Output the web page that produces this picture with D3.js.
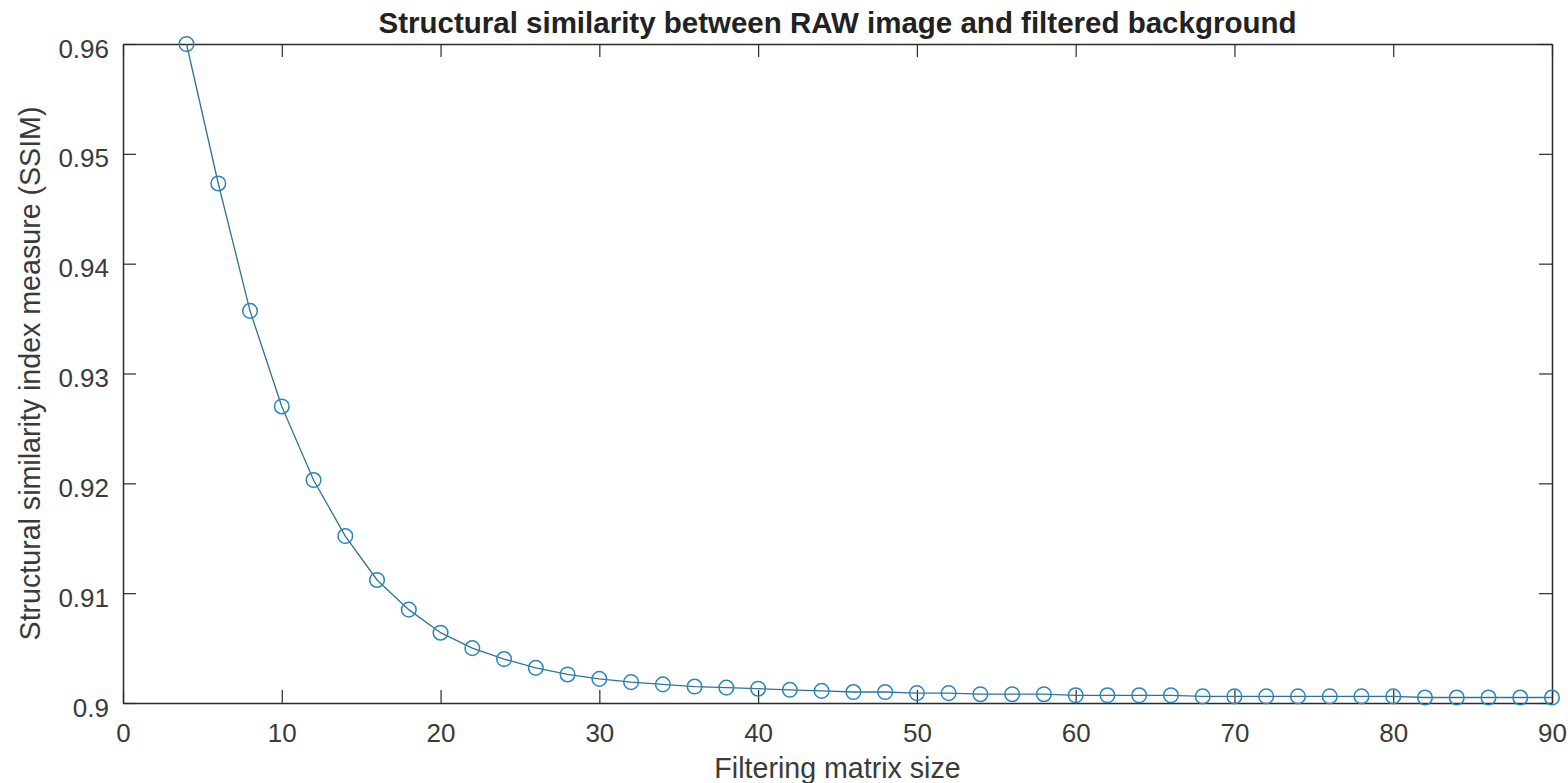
<!DOCTYPE html>
<html>
<head>
<meta charset="utf-8">
<script src="https://cdn.jsdelivr.net/npm/d3@7"></script>
<style>
  html, body { margin: 0; padding: 0; background: #fff; }
  svg { display: block; }
</style>
</head>
<body>
<svg id="chart" width="1568" height="783"></svg>
<script>
// Filter window sizes and the SSIM measured for each one
const matrixSizes = [4, 6, 8, 10, 12, 14, 16, 18, 20, 22, 24, 26, 28, 30, 32, 34, 36, 38, 40, 42, 44, 46,
                     48, 50, 52, 54, 56, 58, 60, 62, 64, 66, 68, 70, 72, 74, 76, 78, 80, 82, 84, 86, 88, 90];
const ssimValues = [0.9600, 0.9473, 0.9357, 0.9270, 0.9203, 0.9152, 0.9112, 0.9085, 0.9064, 0.9050,
                    0.9040, 0.9032, 0.9026, 0.9022, 0.9019, 0.9017, 0.9015, 0.9014, 0.9013, 0.9012,
                    0.9011, 0.9010, 0.9010, 0.9009, 0.9009, 0.9008, 0.9008, 0.9008, 0.9007, 0.9007,
                    0.9007, 0.9007, 0.9006, 0.9006, 0.9006, 0.9006, 0.9006, 0.9006, 0.9006, 0.9005,
                    0.9005, 0.9005, 0.9005, 0.9005];
const xTicks = [0, 10, 20, 30, 40, 50, 60, 70, 80, 90];
const yTicks = [0.90, 0.91, 0.92, 0.93, 0.94, 0.95, 0.96];
const yTickLabels = ["0.9", "0.91", "0.92", "0.93", "0.94", "0.95", "0.96"];

const titleText = "Structural similarity between RAW image and filtered background";
const xLabelText = "Filtering matrix size";
const yLabelText = "Structural similarity index measure (SSIM)";

const svg = d3.select("#chart");
const plotLeft = 123, plotRight = 1552, plotTop = 44, plotBottom = 703;
const axisColor = "#2b2b2b";
const textColor = "#3a3a3a";
const markerColor = "#2a86b8";
const lineColor = "#2f7399";
const font = "'Liberation Sans', Arial, Helvetica, sans-serif";
const tickFont = 26, labelFont = 28.6, titleFont = 29.5;
const tickLen = 13;

const x = d3.scaleLinear().domain([0, 90]).range([plotLeft, plotRight]);
const y = d3.scaleLinear().domain([0.90, 0.96]).range([plotBottom, plotTop]);

// Axes: boxed axes with inward ticks on all four sides
const fmtY = (d) => yTickLabels[yTicks.findIndex(t => Math.abs(t - d) < 1e-9)];

const gBottom = svg.append("g").attr("transform", `translate(0,${plotBottom})`)
  .call(d3.axisBottom(x).tickValues(xTicks).tickSizeInner(-tickLen).tickSizeOuter(0).tickPadding(21));
const gTop = svg.append("g").attr("transform", `translate(0,${plotTop})`)
  .call(d3.axisTop(x).tickValues(xTicks).tickSizeInner(-tickLen).tickSizeOuter(0).tickFormat(""));
const gLeft = svg.append("g").attr("transform", `translate(${plotLeft},0)`)
  .call(d3.axisLeft(y).tickValues(yTicks).tickFormat(fmtY).tickSizeInner(-tickLen).tickSizeOuter(0).tickPadding(14));
const gRight = svg.append("g").attr("transform", `translate(${plotRight},0)`)
  .call(d3.axisRight(y).tickValues(yTicks).tickSizeInner(-tickLen).tickSizeOuter(0).tickFormat(""));

[gBottom, gTop, gLeft, gRight].forEach(g => {
  g.select(".domain").attr("stroke", axisColor).attr("stroke-width", 1.5);
  g.selectAll(".tick line").attr("stroke", axisColor).attr("stroke-width", 1.2);
  g.selectAll(".tick text")
    .attr("fill", textColor)
    .style("font-family", font)
    .style("font-size", tickFont + "px");
});
gLeft.selectAll(".tick text").attr("dy", "0.5em");

// Series: connecting line with open circle markers
const pts = matrixSizes.map((m, i) => [m, ssimValues[i]]);
svg.append("path")
  .datum(pts)
  .attr("fill", "none")
  .attr("stroke", lineColor)
  .attr("stroke-width", 1.3)
  .attr("d", d3.line().x(d => x(d[0])).y(d => y(d[1])));

svg.append("g").selectAll("circle")
  .data(pts)
  .join("circle")
  .attr("cx", d => x(d[0]))
  .attr("cy", d => y(d[1]))
  .attr("r", 7.3)
  .attr("fill", "none")
  .attr("stroke", markerColor)
  .attr("stroke-width", 1.5);

// Titles
svg.append("text")
  .attr("x", (plotLeft + plotRight) / 2)
  .attr("y", 33)
  .attr("text-anchor", "middle")
  .attr("fill", "#222")
  .style("font-family", font)
  .style("font-weight", "bold")
  .style("font-size", titleFont + "px")
  .text(titleText);

svg.append("text")
  .attr("x", (plotLeft + plotRight) / 2)
  .attr("y", 778)
  .attr("text-anchor", "middle")
  .attr("fill", textColor)
  .style("font-family", font)
  .style("font-size", labelFont + "px")
  .text(xLabelText);

svg.append("text")
  .attr("transform", `translate(40,${(plotTop + plotBottom) / 2}) rotate(-90)`)
  .attr("text-anchor", "middle")
  .attr("fill", textColor)
  .style("font-family", font)
  .style("font-size", labelFont + "px")
  .text(yLabelText);
</script>
</body>
</html>
